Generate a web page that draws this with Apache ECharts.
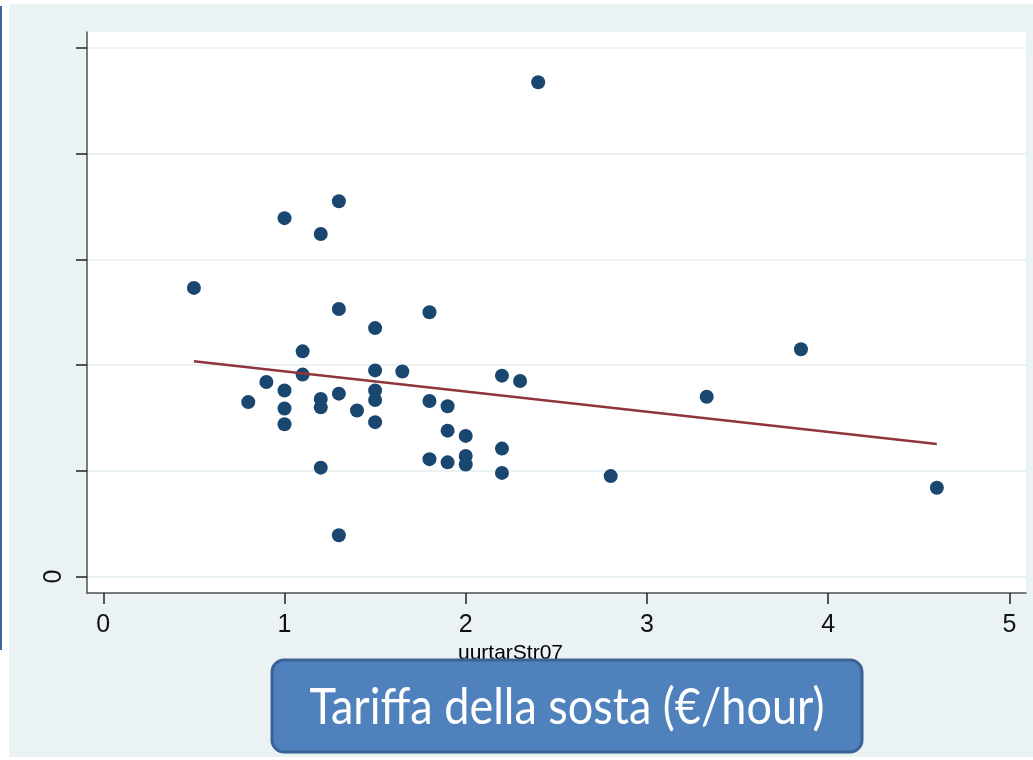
<!DOCTYPE html>
<html>
<head>
<meta charset="utf-8">
<script src="https://cdn.jsdelivr.net/npm/echarts@6/dist/echarts.min.js"></script>
<style>
html,body{margin:0;padding:0;background:#fff;}
#chart{width:1033px;height:760px;}
</style>
</head>
<body>
<div id="chart"></div>
<script>
// x: parking tariff (uurtarStr07), y: outcome
const pointX = [2.40, 1.30, 1.00, 1.20, 0.50, 1.30, 1.80, 1.50, 1.10, 3.85,
                1.50, 1.65, 1.10, 2.20, 2.30, 0.90, 1.00, 1.50, 1.30, 3.33,
                0.80, 1.20, 1.50, 1.80, 1.00, 1.20, 1.90, 1.40, 1.50, 1.00,
                1.90, 2.00, 2.20, 1.80, 2.00, 1.90, 2.00, 1.20, 2.20, 2.80,
                4.60, 1.30];
const pointY = [4.675, 3.55, 3.39, 3.24, 2.73, 2.53, 2.50, 2.35, 2.13, 2.15,
                1.95, 1.94, 1.91, 1.90, 1.85, 1.84, 1.76, 1.76, 1.73, 1.70,
                1.65, 1.68, 1.67, 1.66, 1.59, 1.60, 1.61, 1.57, 1.46, 1.44,
                1.38, 1.33, 1.21, 1.11, 1.14, 1.08, 1.06, 1.03, 0.98, 0.95,
                0.84, 0.39];
const fitX = [0.5, 4.6];
const fitY = [2.036, 1.253];
const xTicks = [0, 1, 2, 3, 4, 5];
const yTicks = [0, 1, 2, 3, 4, 5];
const yTickLabels = [0];
const xName = 'uurtarStr07';
const boxText = 'Tariffa della sosta (€/hour)';

const chart = echarts.init(document.getElementById('chart'), null, {renderer: 'canvas'});
const scatterData = pointX.map((x, i) => [x, pointY[i]]);
const fitData = fitX.map((x, i) => [x, fitY[i]]);

chart.setOption({
  animation: false,
  backgroundColor: '#ffffff',
  graphic: [
    {type: 'rect', z: -10, silent: true, shape: {x: 9, y: 4, width: 1024, height: 753}, style: {fill: '#eaf2f3'}},
    {type: 'rect', z: -10, silent: true, shape: {x: 0, y: 6, width: 2, height: 644}, style: {fill: '#3a679c'}},
    {type: 'rect', z: 100, silent: true, shape: {x: 272, y: 660, width: 590, height: 92, r: 12},
     style: {fill: '#4f81bd', stroke: '#3b6294', lineWidth: 3}},
    {type: 'text', z: 101, silent: true, x: 567, y: 708, scaleY: 1.12,
     style: {text: boxText, fill: '#ffffff', fontFamily: 'Lato', fontSize: 45, align: 'center', verticalAlign: 'middle'}}
  ],
  grid: {left: 87, right: 7, top: 32, bottom: 167, show: true, backgroundColor: '#ffffff', borderWidth: 0},
  xAxis: {
    type: 'value', min: -0.09, max: 5.092,
    name: xName, nameLocation: 'middle', nameGap: 50,
    nameTextStyle: {fontFamily: 'Liberation Sans', fontSize: 21, color: '#000', padding: [0, 92, 0, 0]},
    axisLine: {show: true, onZero: false, lineStyle: {color: '#505050', width: 1.5}},
    axisTick: {show: true, length: 11, customValues: xTicks, lineStyle: {color: '#222', width: 1.5}},
    axisLabel: {customValues: xTicks, margin: 20, fontFamily: 'Liberation Sans', fontSize: 25, color: '#111'},
    splitLine: {show: false}
  },
  yAxis: {
    type: 'value', min: -0.156, max: 5.151,
    axisLine: {show: true, onZero: false, lineStyle: {color: '#505050', width: 1.5}},
    axisTick: {show: true, length: 11, customValues: yTicks, lineStyle: {color: '#222', width: 1.5}},
    axisLabel: {customValues: yTickLabels, rotate: 90, margin: 20, fontFamily: 'Liberation Sans', fontSize: 25, color: '#111'},
    splitLine: {show: true, lineStyle: {color: '#eaf2f3', width: 2}}
  },
  series: [
    {type: 'scatter', data: scatterData, symbolSize: 14, itemStyle: {color: '#1a476f', opacity: 1}, z: 2},
    {type: 'line', data: fitData, showSymbol: false, symbol: 'none', lineStyle: {color: '#90353b', width: 2.5}, z: 3}
  ]
});
</script>
</body>
</html>
